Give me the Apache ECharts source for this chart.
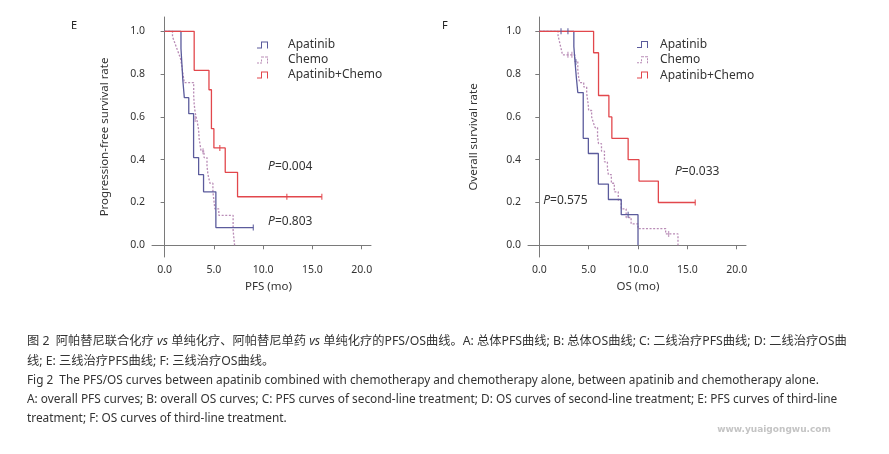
<!DOCTYPE html>
<html><head><meta charset="utf-8">
<script src="https://cdn.jsdelivr.net/npm/echarts@6/dist/echarts.min.js"></script>
<style>html,body{margin:0;padding:0;background:#fff}#c{width:889px;height:454px}</style>
</head><body><div id="c"></div>
<script>
// ---------- DATA ----------
// Panel E: PFS (times in months, survival probability after each event)
const pfsApaT   = [0, 1.66, 1.75, 1.85, 2.0, 2.45, 2.94, 3.45, 3.95, 5.2, 9.0];
const pfsApaS   = [1, 0.92, 0.85, 0.77, 0.69, 0.615, 0.41, 0.33, 0.25, 0.083, 0.083];
const pfsChemoT = [0, 0.8, 1.0, 1.2, 1.4, 1.6, 1.7, 1.8, 1.9, 2.0, 2.95, 3.0, 3.1, 3.3, 3.45, 3.5, 3.6, 3.7, 4.0, 4.3, 4.4, 4.6, 4.9, 5.0, 5.1, 5.5, 6.95, 7.1];
const pfsChemoS = [1, 0.975, 0.95, 0.925, 0.90, 0.875, 0.85, 0.82, 0.79, 0.76, 0.70, 0.66, 0.62, 0.58, 0.54, 0.50, 0.47, 0.44, 0.41, 0.37, 0.33, 0.29, 0.25, 0.21, 0.17, 0.14, 0.07, 0.0];
const pfsComboT = [0, 3.0, 4.5, 4.75, 5.0, 6.15, 7.4, 15.95];
const pfsComboS = [1, 0.818, 0.727, 0.545, 0.455, 0.341, 0.227, 0.227];
// censor marks [time, survival]
const pfsApaCens   = [[9.0, 0.083]];
const pfsChemoCens = [[3.1, 0.59], [3.9, 0.44]];
const pfsComboCens = [[5.6, 0.455], [12.4, 0.227], [15.95, 0.227]];

// Panel F: OS
const osApaT   = [0, 3.5, 3.62, 3.75, 3.9, 4.45, 4.97, 5.98, 7.0, 8.3, 10.0];
const osApaS   = [1, 0.929, 0.857, 0.786, 0.714, 0.5, 0.429, 0.286, 0.214, 0.143, 0];
const osChemoT = [0, 1.9, 2.0, 2.1, 2.2, 2.35, 3.6, 3.9, 4.0, 4.1, 4.5, 4.8, 4.95, 5.0, 5.3, 5.5, 5.65, 5.9, 6.0, 6.3, 6.6, 6.9, 7.0, 7.3, 7.6, 8.0, 8.3, 8.8, 9.3, 10.0, 12.8, 14.05];
const osChemoS = [1, 0.98, 0.96, 0.94, 0.92, 0.89, 0.86, 0.82, 0.78, 0.76, 0.74, 0.71, 0.66, 0.63, 0.60, 0.57, 0.55, 0.51, 0.475, 0.44, 0.39, 0.36, 0.33, 0.29, 0.25, 0.21, 0.17, 0.13, 0.10, 0.078, 0.053, 0.0];
const osComboT = [0, 5.5, 6.0, 7.05, 7.35, 9.0, 10.1, 12.06, 15.8];
const osComboS = [1, 0.9, 0.7, 0.6, 0.5, 0.4, 0.3, 0.2, 0.2];
const osApaCens   = [[2.2, 1.0], [2.9, 1.0], [3.7, 0.857], [9.0, 0.143]];
const osChemoCens = [[2.9, 0.89], [3.3, 0.89], [13.1, 0.053]];
const osComboCens = [[15.8, 0.2]];

const seriesNames = ['Apatinib', 'Chemo', 'Apatinib+Chemo'];
const xTicks = [0, 5, 10, 15, 20];
const yTicks = [0, 0.2, 0.4, 0.6, 0.8, 1.0];
const panelLetters = ['E', 'F'];
const xNames = ['PFS (mo)', 'OS (mo)'];
const yNames = ['Progression-free survival rate', 'Overall survival rate'];
// P-value annotations (data coords)
const annotGrid = [0, 0, 1, 1];
const annotX = [10.5, 10.5, 13.75, 0.4];
const annotY = [0.366, 0.109, 0.343, 0.21];
const annotText = ['=0.004', '=0.803', '=0.033', '=0.575'];

const captionLines = [
  '图 2  阿帕替尼联合化疗 {i|vs} 单纯化疗、阿帕替尼单药 {i|vs} 单纯化疗的PFS/OS曲线。A: 总体PFS曲线; B: 总体OS曲线; C: 二线治疗PFS曲线; D: 二线治疗OS曲',
  '线; E: 三线治疗PFS曲线; F: 三线治疗OS曲线。',
  'Fig 2  The PFS/OS curves between apatinib combined with chemotherapy and chemotherapy alone, between apatinib and chemotherapy alone.',
  'A: overall PFS curves; B: overall OS curves; C: PFS curves of second-line treatment; D: OS curves of second-line treatment; E: PFS curves of third-line',
  'treatment; F: OS curves of third-line treatment.'
];

// ---------- STYLE ----------
const C_APA = '#5b5b9c', C_CHEMO = '#b98cb6', C_COMBO = '#e2474c';
const FONT = '"Noto Sans", "Noto Sans CJK SC", sans-serif';
const AX = '#7a7a7a';

const stepIcon = 'path://M0,6 H4 V0 H11 V7 H10 V1 H5 V7 H0 Z';
const dotIcon = 'path://M0,6h2v1h-2z M3,6h2v1h-2z M4,3h1v2h-1z M4,0h3v1h-3z M8,0h3v1h-3z M10,2h1v2h-1z M10,5h1v2h-1z';

const km = (t, s) => t.map((x, i) => [x, s[i]]);

const grids = [
  { left: 152, top: 17, width: 219, height: 240 },
  { left: 528, top: 17, width: 218, height: 240 }
];
const xMin = [-1.28, -1.145];
const xMax = [20.94, 20.94];

function xAxis(i) {
  return {
    type: 'value', gridIndex: i, min: xMin[i], max: xMax[i],
    name: xNames[i], nameLocation: 'middle', nameGap: 24,
    nameTextStyle: { fontSize: 11.5, color: '#333', fontFamily: FONT, padding: i === 0 ? [0, 0, 0, 14] : [0, 0, 0, 2] },
    axisLine: { lineStyle: { color: AX, width: 1 } },
    axisTick: { customValues: xTicks, length: 4, lineStyle: { color: AX } },
    axisLabel: { customValues: xTicks, formatter: v => v.toFixed(1), fontSize: 10.5, color: '#333', fontFamily: FONT, margin: 8 },
    splitLine: { show: false }
  };
}
function yAxis(i) {
  return {
    type: 'value', gridIndex: i, min: -0.0547, max: 1.067,
    name: yNames[i], nameLocation: 'middle', nameGap: i === 0 ? 42 : 49,
    nameTextStyle: { fontSize: 11.5, color: '#333', fontFamily: FONT },
    axisLine: { show: true, lineStyle: { color: AX, width: 1 } },
    axisTick: { show: true, customValues: yTicks, length: 4, lineStyle: { color: AX } },
    axisLabel: { customValues: yTicks, formatter: v => v.toFixed(1), fontSize: 10.5, color: '#333', fontFamily: FONT, margin: 7 },
    splitLine: { show: false }
  };
}

function lineSeries(name, data, color, gi, dashed) {
  return {
    name, type: 'line', step: 'end', xAxisIndex: gi, yAxisIndex: gi,
    data, showSymbol: false, symbol: 'none', color, silent: true,
    lineStyle: { color, width: 1.3, type: dashed ? [2, 1.6] : 'solid' },
    z: dashed ? 2 : 3
  };
}
function censSeries(data, color, gi) {
  return {
    type: 'scatter', xAxisIndex: gi, yAxisIndex: gi, data,
    symbol: 'rect', symbolSize: [1.3, 6], itemStyle: { color }, silent: true, z: 4
  };
}

const legendData = [
  { name: seriesNames[0], icon: stepIcon },
  { name: seriesNames[1], icon: dotIcon },
  { name: seriesNames[2], icon: stepIcon }
];

const chart = echarts.init(document.getElementById('c'), null, { renderer: 'canvas' });

const graphics = [];
panelLetters.forEach((l, i) => {
  graphics.push({ type: 'text', left: i === 0 ? 71 : 442, top: 20,
    style: { text: l, fontSize: 11, fill: '#222', fontFamily: FONT } });
});
const capY = [341.7, 361.7, 380.7, 400, 418.3];
const capSize = [12.25, 12.25, 11.8, 11.85, 11.85];
captionLines.forEach((t, i) => {
  graphics.push({ type: 'text', x: 27, y: capY[i],
    style: { text: t, fontSize: capSize[i], fill: '#333', fontFamily: FONT, verticalAlign: 'middle',
      rich: { i: { fontStyle: 'italic', fontSize: capSize[i], fill: '#333', fontFamily: FONT } } } });
});
graphics.push({ type: 'text', x: 774, y: 430,
  style: { text: 'www.yuaigongwu.com', fontSize: 9, fontWeight: 'bold', fill: '#c4c4c4',
    fontFamily: '"DejaVu Sans", sans-serif', align: 'center', verticalAlign: 'middle' } });

chart.setOption({
  animation: false,
  backgroundColor: '#fff',
  grid: grids,
  xAxis: [xAxis(0), xAxis(1)],
  yAxis: [yAxis(0), yAxis(1)],
  legend: [
    { data: legendData, orient: 'vertical', left: 257, top: 39, padding: 0, itemGap: 3,
      itemWidth: 15, itemHeight: 7, selectedMode: false,
      itemStyle: { borderWidth: 0 }, textStyle: { fontSize: 12, color: '#333', fontFamily: FONT, padding: [0, 0, 0, 13] } },
    { data: legendData, orient: 'vertical', left: 637, top: 38.5, padding: 0, itemGap: 3.3,
      itemWidth: 15, itemHeight: 7, selectedMode: false,
      itemStyle: { borderWidth: 0 }, textStyle: { fontSize: 12, color: '#333', fontFamily: FONT, padding: [0, 0, 0, 5] } }
  ],
  series: [
    lineSeries(seriesNames[1], km(pfsChemoT, pfsChemoS), C_CHEMO, 0, true),
    lineSeries(seriesNames[0], km(pfsApaT, pfsApaS), C_APA, 0, false),
    lineSeries(seriesNames[2], km(pfsComboT, pfsComboS), C_COMBO, 0, false),
    censSeries(pfsChemoCens, C_CHEMO, 0),
    censSeries(pfsApaCens, C_APA, 0),
    censSeries(pfsComboCens, C_COMBO, 0),
    lineSeries(seriesNames[1], km(osChemoT, osChemoS), C_CHEMO, 1, true),
    lineSeries(seriesNames[0], km(osApaT, osApaS), C_APA, 1, false),
    lineSeries(seriesNames[2], km(osComboT, osComboS), C_COMBO, 1, false),
    censSeries(osChemoCens, C_CHEMO, 1),
    censSeries(osApaCens, C_APA, 1),
    censSeries(osComboCens, C_COMBO, 1)
  ],
  graphic: graphics
});

// P-value annotations positioned through the grid scales
annotText.forEach((t, i) => {
  const p = chart.convertToPixel({ gridIndex: annotGrid[i] }, [annotX[i], annotY[i]]);
  graphics.push({ type: 'text', x: p[0], y: p[1],
    style: { text: '{i|P}' + t, fontSize: 12, fill: '#333', fontFamily: FONT, verticalAlign: 'middle',
      rich: { i: { fontStyle: 'italic', fontSize: 12, fill: '#333', fontFamily: FONT } } } });
});
chart.setOption({ graphic: graphics });
</script></body></html>
